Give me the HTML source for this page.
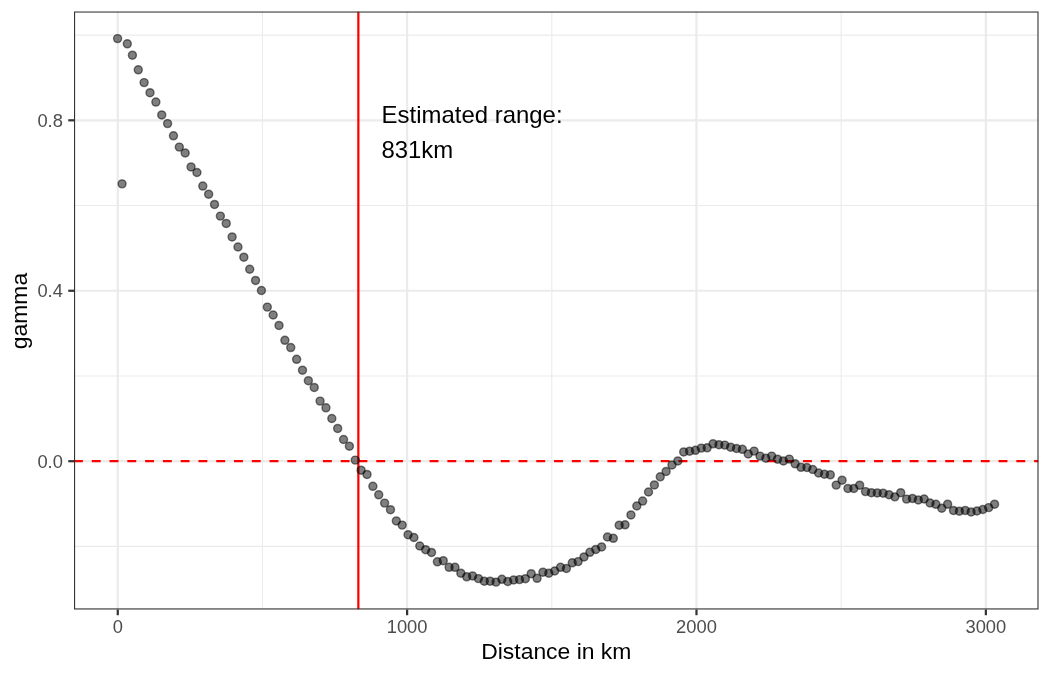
<!DOCTYPE html>
<html><head><meta charset="utf-8"><title>Variogram</title>
<style>
html,body{margin:0;padding:0;background:#fff;}
svg{display:block;}
text{font-family:"Liberation Sans",Arial,Helvetica,sans-serif;}
.tl{font-size:18.33px;fill:#4d4d4d;}
.at{font-size:22.92px;fill:#000;}
.an{font-size:23px;fill:#000;}
</style></head><body>
<svg width="1050" height="675" viewBox="0 0 1050 675">
<rect width="1050" height="675" fill="#fff"/>
<defs><clipPath id="p"><rect x="74.0" y="11.46" width="964.54" height="598.04"/></clipPath></defs>
<g clip-path="url(#p)">
<g stroke="#ebebeb" stroke-width="1.11" fill="none">
<line x1="74.0" x2="1038.54" y1="35.10" y2="35.10"/>
<line x1="74.0" x2="1038.54" y1="205.54" y2="205.54"/>
<line x1="74.0" x2="1038.54" y1="375.98" y2="375.98"/>
<line x1="74.0" x2="1038.54" y1="546.42" y2="546.42"/>
<line y1="11.46" y2="609.5" x1="262.44" x2="262.44"/>
<line y1="11.46" y2="609.5" x1="551.81" x2="551.81"/>
<line y1="11.46" y2="609.5" x1="841.18" x2="841.18"/>
</g>
<g stroke="#ebebeb" stroke-width="2.22" fill="none">
<line x1="74.0" x2="1038.54" y1="120.32" y2="120.32"/>
<line x1="74.0" x2="1038.54" y1="290.76" y2="290.76"/>
<line x1="74.0" x2="1038.54" y1="461.20" y2="461.20"/>
<line y1="11.46" y2="609.5" x1="117.75" x2="117.75"/>
<line y1="11.46" y2="609.5" x1="407.12" x2="407.12"/>
<line y1="11.46" y2="609.5" x1="696.49" x2="696.49"/>
<line y1="11.46" y2="609.5" x1="985.86" x2="985.86"/>
</g>
<line x1="358.35" x2="358.35" y1="11.46" y2="609.5" stroke="#ff0000" stroke-width="2.22"/>
<line x1="74.0" x2="1038.54" y1="461.2" y2="461.2" stroke="#ff0000" stroke-width="2.22" stroke-dasharray="8.89 8.89"/>
<g fill="#000" fill-opacity="0.5" stroke="#000" stroke-opacity="0.5" stroke-width="1.45">
<circle cx="117.60" cy="38.60" r="4.0"/>
<circle cx="122.05" cy="183.85" r="4.0"/>
<circle cx="127.30" cy="43.80" r="4.0"/>
<circle cx="132.40" cy="55.20" r="4.0"/>
<circle cx="138.27" cy="69.80" r="4.0"/>
<circle cx="144.13" cy="82.60" r="4.0"/>
<circle cx="150.00" cy="92.70" r="4.0"/>
<circle cx="155.86" cy="102.05" r="4.0"/>
<circle cx="161.73" cy="114.90" r="4.0"/>
<circle cx="167.59" cy="123.60" r="4.0"/>
<circle cx="173.46" cy="135.80" r="4.0"/>
<circle cx="179.32" cy="147.10" r="4.0"/>
<circle cx="185.19" cy="153.00" r="4.0"/>
<circle cx="191.05" cy="166.90" r="4.0"/>
<circle cx="196.92" cy="172.50" r="4.0"/>
<circle cx="202.78" cy="186.05" r="4.0"/>
<circle cx="208.65" cy="194.20" r="4.0"/>
<circle cx="214.51" cy="204.40" r="4.0"/>
<circle cx="220.38" cy="216.10" r="4.0"/>
<circle cx="226.24" cy="223.40" r="4.0"/>
<circle cx="232.11" cy="236.90" r="4.0"/>
<circle cx="237.97" cy="247.00" r="4.0"/>
<circle cx="243.84" cy="257.20" r="4.0"/>
<circle cx="249.70" cy="269.25" r="4.0"/>
<circle cx="255.56" cy="280.40" r="4.0"/>
<circle cx="261.43" cy="290.50" r="4.0"/>
<circle cx="267.30" cy="307.10" r="4.0"/>
<circle cx="273.16" cy="315.00" r="4.0"/>
<circle cx="279.02" cy="325.40" r="4.0"/>
<circle cx="284.89" cy="340.30" r="4.0"/>
<circle cx="290.75" cy="347.55" r="4.0"/>
<circle cx="296.62" cy="359.30" r="4.0"/>
<circle cx="302.49" cy="370.20" r="4.0"/>
<circle cx="308.35" cy="380.70" r="4.0"/>
<circle cx="314.22" cy="387.40" r="4.0"/>
<circle cx="320.08" cy="401.10" r="4.0"/>
<circle cx="325.95" cy="407.80" r="4.0"/>
<circle cx="331.81" cy="418.50" r="4.0"/>
<circle cx="337.68" cy="428.45" r="4.0"/>
<circle cx="343.54" cy="439.50" r="4.0"/>
<circle cx="349.40" cy="446.20" r="4.0"/>
<circle cx="355.27" cy="460.10" r="4.0"/>
<circle cx="361.13" cy="470.20" r="4.0"/>
<circle cx="367.00" cy="474.40" r="4.0"/>
<circle cx="372.87" cy="486.30" r="4.0"/>
<circle cx="378.73" cy="494.80" r="4.0"/>
<circle cx="384.60" cy="503.10" r="4.0"/>
<circle cx="390.46" cy="509.70" r="4.0"/>
<circle cx="396.33" cy="520.90" r="4.0"/>
<circle cx="402.19" cy="525.10" r="4.0"/>
<circle cx="408.06" cy="534.70" r="4.0"/>
<circle cx="413.92" cy="537.50" r="4.0"/>
<circle cx="419.78" cy="546.00" r="4.0"/>
<circle cx="425.65" cy="549.70" r="4.0"/>
<circle cx="431.51" cy="552.40" r="4.0"/>
<circle cx="437.38" cy="561.80" r="4.0"/>
<circle cx="443.25" cy="560.70" r="4.0"/>
<circle cx="449.11" cy="567.30" r="4.0"/>
<circle cx="454.98" cy="567.30" r="4.0"/>
<circle cx="460.84" cy="573.20" r="4.0"/>
<circle cx="466.71" cy="576.80" r="4.0"/>
<circle cx="472.57" cy="575.90" r="4.0"/>
<circle cx="478.44" cy="578.60" r="4.0"/>
<circle cx="484.30" cy="581.20" r="4.0"/>
<circle cx="490.16" cy="581.20" r="4.0"/>
<circle cx="496.03" cy="582.10" r="4.0"/>
<circle cx="501.89" cy="579.30" r="4.0"/>
<circle cx="507.76" cy="581.50" r="4.0"/>
<circle cx="513.62" cy="579.90" r="4.0"/>
<circle cx="519.49" cy="579.60" r="4.0"/>
<circle cx="525.36" cy="578.70" r="4.0"/>
<circle cx="531.22" cy="573.70" r="4.0"/>
<circle cx="537.09" cy="578.30" r="4.0"/>
<circle cx="542.95" cy="572.20" r="4.0"/>
<circle cx="548.82" cy="573.20" r="4.0"/>
<circle cx="554.68" cy="571.00" r="4.0"/>
<circle cx="560.55" cy="567.30" r="4.0"/>
<circle cx="566.41" cy="568.50" r="4.0"/>
<circle cx="572.27" cy="562.80" r="4.0"/>
<circle cx="578.14" cy="561.60" r="4.0"/>
<circle cx="584.00" cy="556.90" r="4.0"/>
<circle cx="589.87" cy="552.30" r="4.0"/>
<circle cx="595.74" cy="549.40" r="4.0"/>
<circle cx="601.60" cy="546.90" r="4.0"/>
<circle cx="607.47" cy="537.00" r="4.0"/>
<circle cx="613.33" cy="538.30" r="4.0"/>
<circle cx="619.20" cy="525.20" r="4.0"/>
<circle cx="625.06" cy="524.80" r="4.0"/>
<circle cx="630.93" cy="514.95" r="4.0"/>
<circle cx="636.79" cy="506.00" r="4.0"/>
<circle cx="642.65" cy="501.05" r="4.0"/>
<circle cx="648.52" cy="492.00" r="4.0"/>
<circle cx="654.38" cy="484.90" r="4.0"/>
<circle cx="660.25" cy="476.80" r="4.0"/>
<circle cx="666.12" cy="471.40" r="4.0"/>
<circle cx="671.98" cy="464.90" r="4.0"/>
<circle cx="677.85" cy="460.90" r="4.0"/>
<circle cx="683.71" cy="451.90" r="4.0"/>
<circle cx="689.58" cy="451.20" r="4.0"/>
<circle cx="695.44" cy="450.30" r="4.0"/>
<circle cx="701.30" cy="448.10" r="4.0"/>
<circle cx="707.17" cy="447.80" r="4.0"/>
<circle cx="713.03" cy="443.80" r="4.0"/>
<circle cx="718.90" cy="444.70" r="4.0"/>
<circle cx="724.76" cy="445.10" r="4.0"/>
<circle cx="730.63" cy="447.20" r="4.0"/>
<circle cx="736.50" cy="448.50" r="4.0"/>
<circle cx="742.36" cy="449.30" r="4.0"/>
<circle cx="748.23" cy="453.90" r="4.0"/>
<circle cx="754.09" cy="451.10" r="4.0"/>
<circle cx="759.96" cy="456.10" r="4.0"/>
<circle cx="765.82" cy="458.20" r="4.0"/>
<circle cx="771.68" cy="456.10" r="4.0"/>
<circle cx="777.55" cy="459.20" r="4.0"/>
<circle cx="783.41" cy="460.90" r="4.0"/>
<circle cx="789.28" cy="459.10" r="4.0"/>
<circle cx="795.14" cy="463.80" r="4.0"/>
<circle cx="801.01" cy="467.30" r="4.0"/>
<circle cx="806.88" cy="467.50" r="4.0"/>
<circle cx="812.74" cy="469.50" r="4.0"/>
<circle cx="818.61" cy="473.00" r="4.0"/>
<circle cx="824.47" cy="474.20" r="4.0"/>
<circle cx="830.34" cy="474.80" r="4.0"/>
<circle cx="836.20" cy="485.10" r="4.0"/>
<circle cx="842.07" cy="480.20" r="4.0"/>
<circle cx="847.93" cy="488.40" r="4.0"/>
<circle cx="853.79" cy="488.50" r="4.0"/>
<circle cx="859.66" cy="485.20" r="4.0"/>
<circle cx="865.52" cy="491.60" r="4.0"/>
<circle cx="871.39" cy="492.65" r="4.0"/>
<circle cx="877.25" cy="492.90" r="4.0"/>
<circle cx="883.12" cy="493.15" r="4.0"/>
<circle cx="888.99" cy="494.65" r="4.0"/>
<circle cx="894.85" cy="496.85" r="4.0"/>
<circle cx="900.72" cy="492.70" r="4.0"/>
<circle cx="906.58" cy="499.10" r="4.0"/>
<circle cx="912.45" cy="498.40" r="4.0"/>
<circle cx="918.31" cy="499.90" r="4.0"/>
<circle cx="924.17" cy="499.00" r="4.0"/>
<circle cx="930.04" cy="503.00" r="4.0"/>
<circle cx="935.90" cy="504.30" r="4.0"/>
<circle cx="941.77" cy="508.20" r="4.0"/>
<circle cx="947.63" cy="504.20" r="4.0"/>
<circle cx="953.50" cy="510.40" r="4.0"/>
<circle cx="959.37" cy="511.20" r="4.0"/>
<circle cx="965.23" cy="510.40" r="4.0"/>
<circle cx="971.10" cy="511.90" r="4.0"/>
<circle cx="976.96" cy="511.00" r="4.0"/>
<circle cx="982.83" cy="509.50" r="4.0"/>
<circle cx="988.69" cy="507.60" r="4.0"/>
<circle cx="994.56" cy="504.20" r="4.0"/>
</g>
<text class="an" transform="translate(381.6,122.6) scale(1.041,1)">Estimated range:</text>
<text class="an" transform="translate(381.4,157.8) scale(1.041,1)">831km</text>
<rect x="74.0" y="11.46" width="964.54" height="598.04" fill="none" stroke="#333" stroke-width="2.22"/>
</g>
<g stroke="#333" stroke-width="2.22">
<line x1="117.75" x2="117.75" y1="609.5" y2="615.23"/>
<line x1="407.12" x2="407.12" y1="609.5" y2="615.23"/>
<line x1="696.49" x2="696.49" y1="609.5" y2="615.23"/>
<line x1="985.86" x2="985.86" y1="609.5" y2="615.23"/>
<line y1="120.32" y2="120.32" x1="68.27" x2="74.0"/>
<line y1="290.76" y2="290.76" x1="68.27" x2="74.0"/>
<line y1="461.20" y2="461.20" x1="68.27" x2="74.0"/>
</g>
<text class="tl" text-anchor="middle" x="117.75" y="633">0</text>
<text class="tl" text-anchor="middle" x="407.12" y="633">1000</text>
<text class="tl" text-anchor="middle" x="696.49" y="633">2000</text>
<text class="tl" text-anchor="middle" x="985.86" y="633">3000</text>
<text class="tl" text-anchor="end" x="62.9" y="126.82">0.8</text>
<text class="tl" text-anchor="end" x="62.9" y="297.26">0.4</text>
<text class="tl" text-anchor="end" x="62.9" y="467.70">0.0</text>
<text class="at" text-anchor="middle" x="556.3" y="659">Distance in km</text>
<text class="at" text-anchor="middle" transform="translate(27.2,311.0) rotate(-90)">gamma</text>
</svg></body></html>
